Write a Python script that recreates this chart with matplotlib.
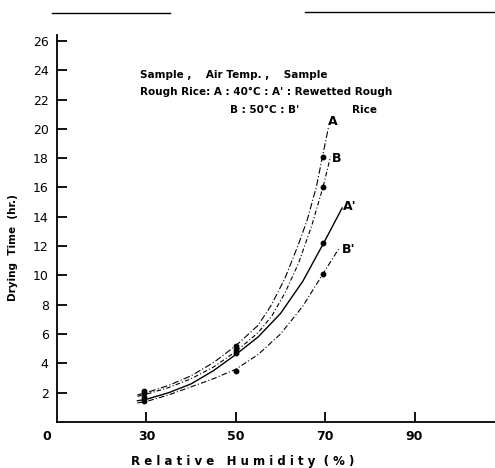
import matplotlib
matplotlib.use('Agg')
import matplotlib.pyplot as plt
from matplotlib.lines import Line2D

# curves (relative humidity %, drying time hr)
rh_a = [28, 30, 35, 40, 45, 50, 55, 58, 61, 64, 66, 68, 70, 70.8]
time_a = [1.85, 2.0, 2.5, 3.15, 4.05, 5.2, 6.6, 8.0, 9.8, 12.1, 13.8, 16.0, 19.0, 20.2]
rh_b = [28, 30, 35, 40, 45, 50, 55, 58, 61, 64, 67, 69.5, 71.2]
time_b = [1.75, 1.9, 2.35, 2.95, 3.75, 4.8, 6.1, 7.2, 8.8, 10.8, 13.4, 16.0, 18.1]
rh_a2 = [28, 30, 35, 40, 45, 50, 55, 60, 65, 70, 73.8]
time_a2 = [1.45, 1.55, 2.0, 2.6, 3.5, 4.6, 5.8, 7.4, 9.6, 12.4, 14.6]
rh_b2 = [28, 30, 35, 40, 45, 50, 55, 60, 65, 69.5, 73]
time_b2 = [1.3, 1.4, 1.85, 2.4, 2.95, 3.6, 4.6, 6.0, 7.9, 10.1, 11.8]

# measured points
rh_pts = [29.5, 50, 69.5]
pts_a = [2.1, 5.2, 18.1]
pts_b = [1.95, 4.9, 16.05]
pts_a2 = [1.7, 4.7, 12.2]
pts_b2 = [1.45, 3.5, 10.1]

x_ticks = [30, 50, 70, 90]
y_ticks = list(range(2, 27, 2))

fig = plt.figure(figsize=(4.95, 4.68), dpi=100)
ax = fig.add_axes([57 / 495, 1 - 422 / 468, 1 - 57 / 495, (422 - 35) / 468])

ax.plot(rh_a, time_a, color='black', lw=0.8, ls=(0, (6, 2, 1, 2)))
ax.plot(rh_b, time_b, color='black', lw=0.8, ls=(0, (4, 2, 1, 2)))
ax.plot(rh_a2, time_a2, color='black', lw=1.0, ls='-')
ax.plot(rh_b2, time_b2, color='black', lw=0.8, ls=(0, (5, 2, 1, 2)))

for ys in (pts_a, pts_b, pts_a2, pts_b2):
    ax.plot(rh_pts, ys, ls='none', marker='o', ms=3.2, color='black')

lab = dict(fontsize=9, fontweight='bold', ha='center', va='center')
ax.text(71.8, 20.5, 'A', **lab)
ax.text(72.6, 18.0, 'B', **lab)
ax.text(75.5, 14.7, "A'", **lab)
ax.text(75.2, 11.8, "B'", **lab)

ax.set_xlim(10, 108)
ax.set_ylim(0, 26.4)
ax.set_xticks(x_ticks)
ax.set_yticks(y_ticks)
ax.set_xticklabels([str(v) for v in x_ticks], fontsize=9, fontweight='bold')
ax.set_yticklabels([str(v) for v in y_ticks], fontsize=9)
ax.tick_params(axis='both', direction='in', length=7, width=1.3, pad=6)
for s in ('top', 'right'):
    ax.spines[s].set_visible(False)
for s in ('left', 'bottom'):
    ax.spines[s].set_linewidth(1.3)

fig.text(47 / 495, 1 - 437 / 468, '0', fontsize=9, fontweight='bold', ha='center', va='center')
fig.text(243 / 495, 1 - 462 / 468, 'R e l a t i v e   H u m i d i t y  ( % )',
         fontsize=8.5, fontweight='bold', ha='center', va='center')
fig.text(13 / 495, 1 - 248 / 468, 'Drying  Time  (hr.)', fontsize=7.5, fontweight='bold',
         rotation=90, ha='center', va='center')

note = dict(fontsize=7.5, fontweight='semibold', ha='left', va='center')
fig.text(140 / 495, 1 - 75 / 468, 'Sample ,    Air Temp. ,    Sample', **note)
fig.text(140 / 495, 1 - 92 / 468, "Rough Rice: A : 40°C : A' : Rewetted Rough", **note)
fig.text(230 / 495, 1 - 110 / 468, "B : 50°C : B'", **note)
fig.text(352 / 495, 1 - 110 / 468, 'Rice', **note)

# rule left over at the top of the scanned page
fig.add_artist(Line2D([52 / 495, 170 / 495], [1 - 13 / 468, 1 - 13 / 468], color='black', lw=1))
fig.add_artist(Line2D([305 / 495, 1.0], [1 - 12 / 468, 1 - 12 / 468], color='black', lw=1))

fig.savefig('out.png', dpi=100)
